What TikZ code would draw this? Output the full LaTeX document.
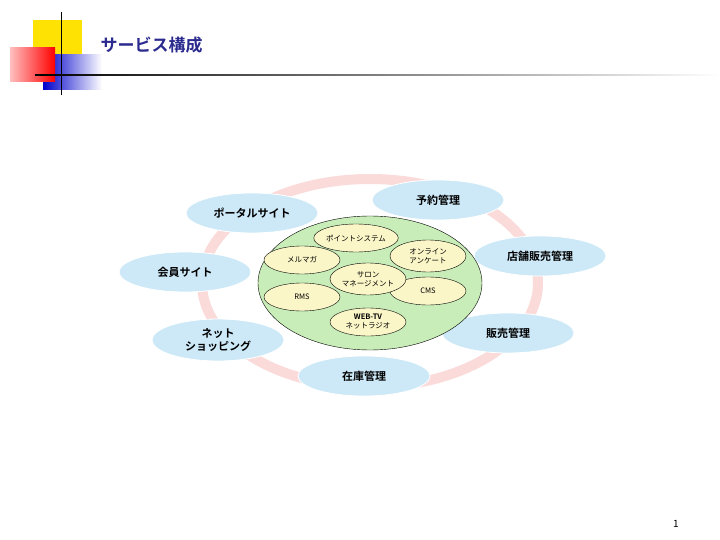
\documentclass[tikz,border=0pt]{standalone}
\usepackage{fontspec}
\setmainfont{Noto Sans CJK JP}
\newfontfamily\jpbold{Noto Sans CJK JP Bold}
\usetikzlibrary{shapes.geometric}
\definecolor{navy}{HTML}{2B2A8F}
\definecolor{skyblue}{HTML}{CDE9F8}
\definecolor{cream}{HTML}{FBF6C8}
\definecolor{leaf}{HTML}{C8EDB8}
\definecolor{ringpink}{HTML}{FBDADA}
\begin{document}
\begin{tikzpicture}[x=1pt,y=-1pt,
    outer/.style = {ellipse, fill=skyblue, draw=white, thick, minimum width=132pt,
                    minimum height=40pt, align=center, font=\jpbold\fontsize{11}{13}\selectfont},
    inner/.style = {ellipse, fill=cream, draw=black, minimum width=76pt,
                    minimum height=28pt, inner sep=0pt, align=center, font=\fontsize{7.5}{9}\selectfont}
                    ]
\useasboundingbox (0,0) rectangle (720,540);
% logo
\fill[yellow!85!orange] (33,20) rectangle (82,56);
\shade[left color=blue!80!black, right color=white] (43,55) rectangle (102,90);
\shade[left color=red!25, right color=red] (10,48) rectangle (55,82);
\draw[thick] (61,12) -- (61,95);
\shade[left color=black, right color=white] (35,74.5) rectangle (720,76);
\node[anchor=west, text=navy, font=\jpbold\fontsize{17}{20}\selectfont] (title) at (97,45) {サービス構成};
% ring
\draw[ringpink, line width=10pt] (370,283) ellipse [x radius=168, y radius=104];
% outer services
\node[outer] (portal) at (252,213) {ポータルサイト};
\node[outer] (yoyaku) at (438,200) {予約管理};
\node[outer] (tenpo) at (540,256) {店舗販売管理};
\node[outer] (kaiin) at (185,272) {会員サイト};
\node[outer] (net) at (218,340) {ネット\\ショッピング};
\node[outer] (hanbai) at (508,333) {販売管理};
\node[outer] (zaiko) at (364,376) {在庫管理};
% center
\node[ellipse, fill=leaf, draw=black, minimum width=224pt, minimum height=134pt] (core) at (370,283) {};
\node[inner] (point) at (356,238) {ポイントシステム};
\node[inner] (mail) at (302,260) {メルマガ};
\node[inner, minimum height=32pt] (enq) at (428,256) {オンライン\\アンケート};
\node[inner] (rms) at (302,297) {RMS};
\node[inner] (cms) at (428,291) {CMS};
\node[inner, minimum height=32pt] (salon) at (368,279) {サロン\\マネージメント};
\node[inner] (web) at (368,322) {{\jpbold WEB-TV}\\ネットラジオ};
\node[font=\fontsize{10}{12}\selectfont] (page) at (676,524) {1};
\end{tikzpicture}
\end{document}
